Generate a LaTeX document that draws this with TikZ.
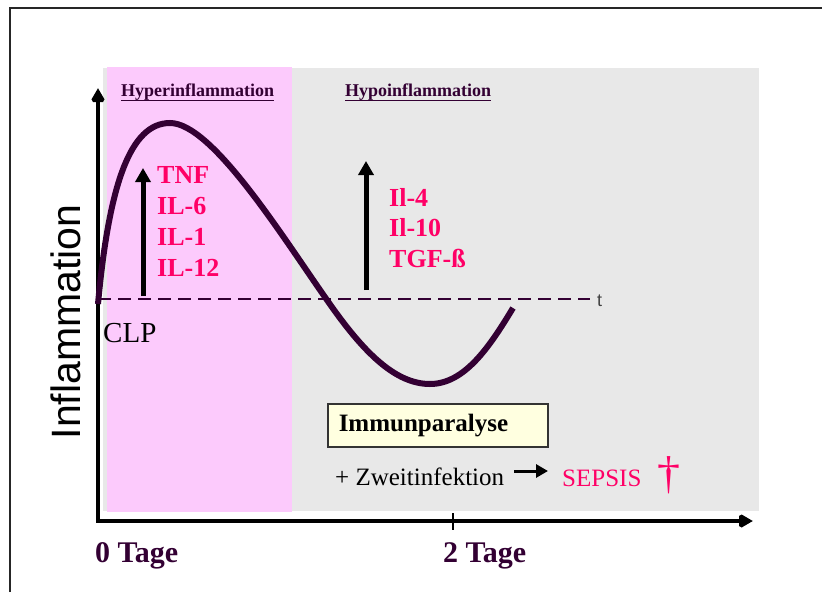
\documentclass[tikz,border=0pt]{standalone}
\usepackage{fontspec}
\setmainfont{Liberation Serif}
\newfontfamily\arialfont{Liberation Sans}
\usetikzlibrary{arrows.meta}
\definecolor{plum}{HTML}{330033}
\definecolor{hyperbg}{HTML}{FCCAFC}
\definecolor{hypobg}{HTML}{E8E8E8}
\definecolor{cytpink}{HTML}{FF0066}
\definecolor{boxfill}{HTML}{FFFFE0}
\begin{document}
\begin{tikzpicture}[x=1pt,y=-1pt,>={Triangle[length=14pt,width=15pt]},
  cyto/.style={anchor=west,inner sep=0pt,text=cytpink,
    font=\bfseries\fontsize{26}{31}\selectfont},
  phase/.style={anchor=west,inner sep=0pt,text=plum,
    font=\bfseries\fontsize{18}{20}\selectfont},
  daylbl/.style={anchor=west,inner sep=0pt,text=plum,
    font=\bfseries\fontsize{30}{34}\selectfont},
  plain/.style={anchor=west,inner sep=0pt,font=\fontsize{25}{28}\selectfont}]
  \useasboundingbox (0,0) rectangle (822,592);
  % outer frame (only top and left edges are visible)
  \draw[black!85,line width=2pt] (10,592) -- (10,8) -- (822,8);
  % the two phases as background panels
  \fill[hypobg] (103,68) rectangle (759,511);
  \fill[hyperbg] (107,67) rectangle (292,512);
  \node[phase] (hyper) at (121,92) {Hyperinflammation};
  \node[phase] (hypo)  at (345,92) {Hypoinflammation};
  \draw[plum,line width=1.6pt] ([yshift=-4pt]hyper.base west) -- ([yshift=-4pt]hyper.base east);
  \draw[plum,line width=1.6pt] ([yshift=-4pt]hypo.base west) -- ([yshift=-4pt]hypo.base east);
  % axes
  \coordinate (O)  at (98,521);
  \coordinate (Yt) at (98,88);
  \coordinate (Xt) at (753,521);
  \draw[<->,line width=4.5pt,miter limit=2] (Yt) -- (O) -- (Xt);
  \draw[line width=1.5pt] (453,513) -- (453,530);
  \node[rotate=90,inner sep=0pt,font=\arialfont\fontsize{41}{44}\selectfont]
    (ylbl) at (66,322) {Inflammation};
  \node[daylbl] (d0) at (95,556) {0 Tage};
  \node[daylbl] (d2) at (443,556) {2 Tage};
  % baseline at time of CLP
  \draw[plum,line width=2pt,dash pattern=on 13pt off 7pt] (98,299) -- (590,299);
  \node[anchor=west,inner sep=0pt,text=black!75,font=\arialfont\fontsize{18}{20}\selectfont]
    (tlbl) at (597,301) {t};
  \node[plain,font=\fontsize{29}{32}\selectfont] (clp) at (103,333) {CLP};
  % course of the inflammation
  \draw[plum,line width=6pt] (98,304)
    .. controls (109,185) and (130,123) .. (170,123)
    .. controls (212,123) and (282,236) .. (327,300)
    .. controls (363,352) and (395,384) .. (430,384)
    .. controls (465,384) and (490,346) .. (513,308);
  % cytokines of the two phases
  \coordinate (ua0) at (143,296);
  \coordinate (ua1) at (143,168);
  \coordinate (ub0) at (366,290);
  \coordinate (ub1) at (366,161);
  \draw[->,line width=5pt] (ua0) -- (ua1);
  \draw[->,line width=5pt] (ub0) -- (ub1);
  \foreach \lbl [count=\i] in {TNF,IL-6,IL-1,IL-12}
    \node[cyto] (pro\i) at (157,144+31*\i) {\lbl};
  \foreach \lbl [count=\i] in {Il-4,Il-10,TGF-ß}
    \node[cyto] (anti\i) at (389,166.5+30.5*\i) {\lbl};
  % outcome
  \node[draw=black!80,line width=1.5pt,fill=boxfill,anchor=west,minimum height=43pt,
    text width=198pt,inner xsep=11pt,align=left,
    font=\bfseries\fontsize{25}{28}\selectfont] (immun) at (327,425.5) {Immunparalyse};
  \node[plain] (zweit) at (335,477) {+ Zweitinfektion};
  \node[plain,text=cytpink] (sepsis) at (562,478) {SEPSIS};
  \node[inner sep=0pt,text=cytpink,font=\fontsize{46}{48}\selectfont] (dagger) at (669,475) {\textdagger};
  \draw[->,>={Triangle[length=12pt,width=13pt]},line width=3pt]
    ([xshift=10pt,yshift=6pt]zweit.east) -- ([xshift=-14pt,yshift=7pt]sepsis.west);
\end{tikzpicture}
\end{document}
